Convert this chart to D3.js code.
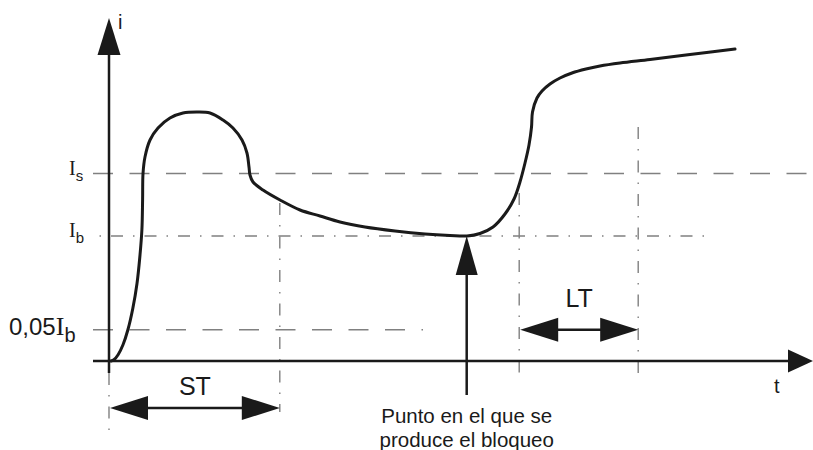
<!DOCTYPE html>
<html>
<head>
<meta charset="utf-8">
<script src="https://cdnjs.cloudflare.com/ajax/libs/d3/7.8.5/d3.min.js"></script>
<style>
    html, body { margin: 0; padding: 0; background: #fff; }
    svg { display: block; }
    text { font-family: "Liberation Sans", Arial, sans-serif; fill: #1a1a1a; }
</style>
</head>
<body>
<div id="chart"></div>
<script>
/*
 * Current trace: t in arbitrary time units, i in units of Ib.
 */
var curveT = [0.3, 0.7, 1.3, 2.0, 2.7, 3.4, 4.0, 4.4, 4.7, 4.8, 4.86,
    5.14, 5.86, 7.0, 8.71, 10.57, 12.57, 14.43, 16.29, 17.71, 19.0, 19.71, 20.0, 20.14,
    20.57, 22.0, 24.43, 27.29, 30.14, 33.0, 36.57, 40.86, 45.14, 48.71, 51.14,
    53.0, 54.86, 56.57, 57.86, 58.71, 59.43, 60.0, 60.36, 60.5,
    61.14, 61.86, 63.0, 64.43, 66.14, 68.14, 70.14, 73.0, 77.29, 83.0, 89.43];
var curveI = [0.0, 0.01, 0.05, 0.13, 0.25, 0.42, 0.62, 0.83, 1.05, 1.29, 1.5,
    1.632, 1.768, 1.864, 1.944, 1.984, 1.992, 1.984, 1.928, 1.864, 1.768, 1.664, 1.552, 1.488,
    1.432, 1.368, 1.288, 1.208, 1.16, 1.112, 1.072, 1.04, 1.016, 1.004, 1.0,
    1.02, 1.072, 1.176, 1.296, 1.432, 1.584, 1.728, 1.872, 1.992,
    2.104, 2.16, 2.216, 2.264, 2.304, 2.336, 2.36, 2.384, 2.412, 2.452, 2.496];
/*
 * Threshold levels.
 */
var levelMain = ['I', 'I', 'I'];
var levelPrefix = ['', '', '0,05'];
var levelSub = ['s', 'b', 'b'];
var levelValues = [1.5, 1.0, 0.25];
/*
 * Timed spans.
 */
var spanLabels = ['ST', 'LT'];
var spanStart = [0, 58.6];
var spanEnd = [24.4, 75.6];
/*
 * Blocking point.
 */
var blockT = [51.1];
var blockLines = ['Punto en el que se', 'produce el bloqueo'];
/*
 * Axis names.
 */
var axisNames = ['t', 'i'];


/**
 * Current diagram.
 * @public
 * @class
 */
function CurrentDiagram() {
    this._width = 813;
    this._height = 450;
    this._xScale = d3.scaleLinear().domain([0, 100]).range([109, 809]);
    this._yScale = d3.scaleLinear().domain([0, 2.5]).range([361, 48.5]);
    this._gray = '#808080';
    this._ink = '#1a1a1a';
    this._dash = '20,16.5';
    this._dashDot = '12,10,1.5,10';
}


/**
 * Draw filled arrow head.
 * @private
 */
CurrentDiagram.prototype._head = function(tipX, tipY, dx, dy, len, half) {
    var bx = tipX - dx * len, by = tipY - dy * len;
    var px = -dy * half, py = dx * half;
    this._svg.append('path')
        .attr('d', 'M' + tipX + ',' + tipY + 'L' + (bx + px) + ',' + (by + py)
            + 'L' + (bx - px) + ',' + (by - py) + 'Z')
        .attr('fill', this._ink);
};


/**
 * Draw plain line.
 * @private
 */
CurrentDiagram.prototype._line = function(x1, y1, x2, y2, stroke, width, dash) {
    return this._svg.append('line')
        .attr('x1', x1).attr('y1', y1)
        .attr('x2', x2).attr('y2', y2)
        .attr('stroke', stroke)
        .attr('stroke-width', width)
        .attr('stroke-dasharray', dash || null);
};


/**
 * Render chart.
 * @public
 */
CurrentDiagram.prototype.renderTo = function(selection) {
    var self = this;
    var x = this._xScale, y = this._yScale;
    var x0 = x(0), y0 = y(0);

    this._svg = d3.select(selection).append('svg')
        .attr('width', this._width)
        .attr('height', this._height);

    this._svg.append('rect')
        .attr('width', this._width).attr('height', this._height)
        .attr('fill', '#fff');
    /*
     * Level lines: Is dashed, Ib dash-dot, 0,05Ib dashed.
     */
    var levelEnd = [810, 710, 423];
    var levelStart = [93, 99.5, 93];
    var levelDash = [this._dash, '1.5,10,12,10', this._dash];
    levelValues.forEach(function(v, k) {
        self._line(levelStart[k], y(v), levelEnd[k], y(v), self._gray, 1.4, levelDash[k]);
    });
    /*
     * Vertical guides at span limits.
     */
    var guideT = [spanEnd[0], spanStart[1], spanEnd[1]];
    var guideTop = [203, 193, 127];
    var guideBottom = [412, 377, 373];
    guideT.forEach(function(t, k) {
        self._line(x(t), guideTop[k], x(t), guideBottom[k], self._gray, 1.4, self._dashDot);
    });
    this._line(x(spanStart[0]), y0 + 12, x(spanStart[0]), 440, this._gray, 1.4, this._dashDot);
    /*
     * Axes.
     */
    this._line(93, y0, 790, y0, this._ink, 2.5);
    this._head(813, y0, 1, 0, 25, 11.5);
    this._line(x0, y0 + 12, x0, 50, this._ink, 2.5);
    this._head(x0, 18, 0, -1, 37, 11.5);
    /*
     * Current trace.
     */
    var line = d3.line()
        .x(function(d, k) { return x(curveT[k]); })
        .y(function(d) { return y(d); })
        .curve(d3.curveCatmullRom.alpha(0.5));

    this._svg.append('path')
        .attr('d', line(curveI))
        .attr('fill', 'none')
        .attr('stroke', this._ink)
        .attr('stroke-width', 3)
        .attr('stroke-linecap', 'round')
        .attr('stroke-linejoin', 'round');
    /*
     * Span arrows.
     */
    var spanY = [408, y(levelValues[2])];
    var labelY = [395, 307];
    spanLabels.forEach(function(name, k) {
        var a = x(spanStart[k]) + 1, b = x(spanEnd[k]);
        self._line(a + 30, spanY[k], b - 30, spanY[k], self._ink, 2.5);
        self._head(a, spanY[k], -1, 0, 38, 12);
        self._head(b, spanY[k], 1, 0, 38, 12);
        self._svg.append('text')
            .attr('x', (a + b) / 2)
            .attr('y', labelY[k])
            .attr('text-anchor', 'middle')
            .attr('font-size', 25)
            .text(name);
    });
    /*
     * Blocking point arrow and caption.
     */
    var bx = x(blockT[0]);
    this._line(bx, 395, bx, y(1) + 30, this._ink, 2.5);
    this._head(bx, y(1), 0, -1, 39, 11);
    blockLines.forEach(function(s, k) {
        self._svg.append('text')
            .attr('x', bx)
            .attr('y', 423 + k * 24)
            .attr('text-anchor', 'middle')
            .attr('font-size', 20.5)
            .text(s);
    });
    /*
     * Level labels.
     */
    var labelX = [69, 69, 9];
    var mainSize = [20, 20, 26];
    levelValues.forEach(function(v, k) {
        var t = self._svg.append('text')
            .attr('x', labelX[k])
            .attr('y', y(v) + (k === 2 ? 5 : 1));
        if (levelPrefix[k]) {
            t.append('tspan').attr('font-size', 24).text(levelPrefix[k]);
        }
        t.append('tspan')
            .attr('font-family', '"Liberation Serif", "Times New Roman", serif')
            .attr('font-size', mainSize[k])
            .text(levelMain[k]);
        t.append('tspan')
            .attr('font-size', k === 2 ? 20 : 15)
            .attr('dy', k === 2 ? 7 : 6)
            .text(levelSub[k]);
    });
    /*
     * Axis names.
     */
    this._svg.append('text')
        .attr('x', 774).attr('y', 393)
        .attr('font-size', 20)
        .text(axisNames[0]);
    this._svg.append('text')
        .attr('x', 118).attr('y', 29)
        .attr('font-size', 20)
        .text(axisNames[1]);

    return this;
};


new CurrentDiagram().renderTo('#chart');
</script>
</body>
</html>
